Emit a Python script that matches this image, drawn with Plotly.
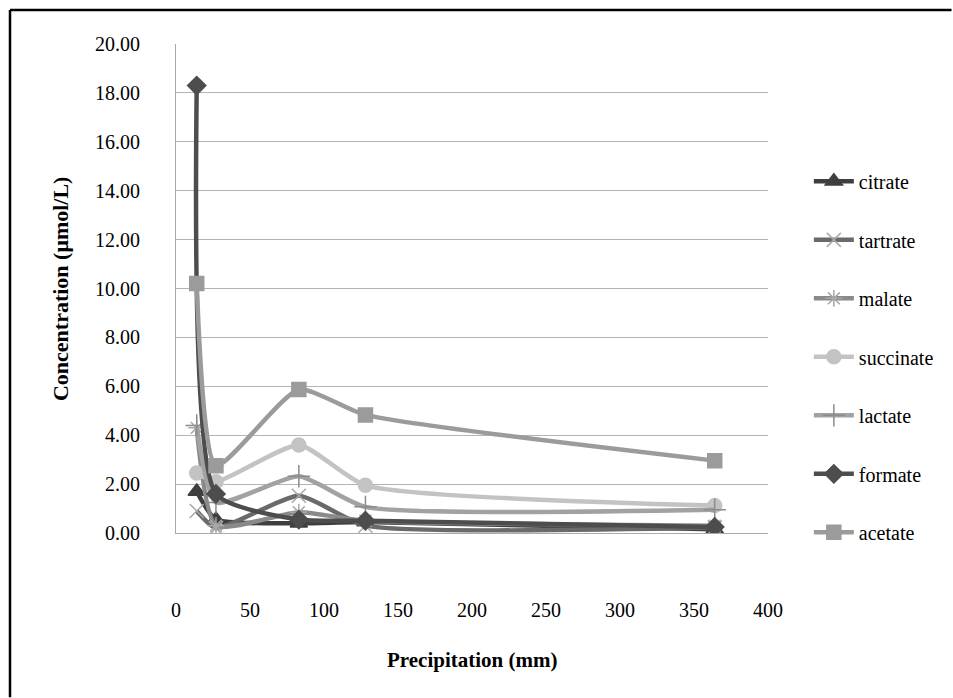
import plotly.graph_objects as go

# Precipitation (mm) at each sampling event
precipitation = [14, 27, 83, 128, 364]

# Concentrations (µmol/L) of organic acids
citrate = [1.70, 0.55, 0.40, 0.45, 0.15]
tartrate = [0.90, 0.20, 1.52, 0.30, 0.22]
malate = [4.30, 0.30, 0.85, 0.50, 0.30]
succinate = [2.45, 2.10, 3.60, 1.95, 1.12]
lactate = [4.40, 1.25, 2.32, 1.07, 0.95]
formate = [18.30, 1.60, 0.55, 0.50, 0.25]
acetate = [10.20, 2.75, 5.87, 4.83, 2.96]

series = [
    ("citrate", citrate, "#3f3f3f", "triangle-up", "#3f3f3f", 15),
    ("tartrate", tartrate, "#6a6a6a", "x-thin-open", "#a8a8a8", 14),
    ("malate", malate, "#8a8a8a", "asterisk-open", "#a8a8a8", 14),
    ("succinate", succinate, "#c3c3c3", "circle", "#c3c3c3", 14),
    ("lactate", lactate, "#a2a2a2", "cross-thin-open", "#8c8c8c", 16),
    ("formate", formate, "#4d4d4d", "diamond", "#4d4d4d", 14),
    ("acetate", acetate, "#9b9b9b", "square", "#9b9b9b", 14),
]

FONT = "Liberation Serif, Times New Roman, serif"

fig = go.Figure()
for i, (name, vals, lc, sym, mc, ms) in enumerate(series):
    fig.add_trace(go.Scatter(
        x=precipitation, y=vals, name=name, mode="lines+markers",
        line=dict(color=lc, width=4.5, shape="spline", smoothing=0.55),
        marker=dict(symbol=sym, size=ms, color=mc,
                    line=dict(color=mc, width=1.5)),
        legendgroup=f"g{i}",
    ))

fig.update_layout(
    width=953, height=698,
    margin=dict(l=176, r=185, t=44, b=165),
    paper_bgcolor="white", plot_bgcolor="white",
    font=dict(family=FONT, size=20, color="black"),
    showlegend=True,
    legend=dict(
        x=1.069, xanchor="left", y=0.759, yanchor="top",
        font=dict(family=FONT, size=20, color="black"),
        traceorder="grouped", tracegroupgap=29.5,
        bgcolor="rgba(0,0,0,0)", itemwidth=40,
    ),
    xaxis=dict(
        range=[0, 400], tickvals=[0, 50, 100, 150, 200, 250, 300, 350, 400],
        showgrid=False, zeroline=False,
        showline=True, linecolor="#aaaaaa", linewidth=1,
        ticks="", ticklabelstandoff=59,
        tickfont=dict(family=FONT, size=20, color="black"),
    ),
    yaxis=dict(
        range=[0, 20], dtick=2, tickformat=".2f",
        showgrid=True, gridcolor="#b4b4b4", gridwidth=1,
        zeroline=False,
        showline=True, linecolor="#aaaaaa", linewidth=1,
        ticks="", ticklabelstandoff=31,
        tickfont=dict(family=FONT, size=20, color="black"),
    ),
    annotations=[
        dict(text="<b>Concentration (μmol/L)</b>", xref="paper", yref="paper",
             x=-0.195, y=0.5, xanchor="center", yanchor="middle",
             textangle=-90, showarrow=False,
             font=dict(family=FONT, size=22, color="black")),
        dict(text="<b>Precipitation (mm)</b>", xref="paper", yref="paper",
             x=0.5, y=-0.26, xanchor="center", yanchor="middle",
             showarrow=False,
             font=dict(family=FONT, size=21, color="black")),
    ],
    shapes=[
        # outer chart frame (top and left edges)
        dict(type="line", xref="paper", yref="paper",
             x0=-0.2804, x1=1.31, y0=1.0695, y1=1.0695,
             line=dict(color="black", width=2.5)),
        dict(type="line", xref="paper", yref="paper",
             x0=-0.2804, x1=-0.2804, y0=1.0695, y1=-0.336,
             line=dict(color="black", width=2.5)),
    ],
)

fig.write_html("out.html")
